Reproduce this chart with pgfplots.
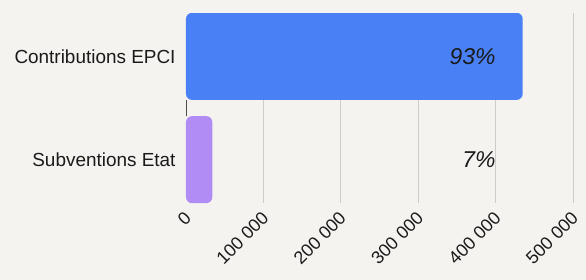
\documentclass[border=0pt]{standalone}
\usepackage{pgfplots}
\pgfplotsset{compat=1.18}
\usepackage{fontspec}
\setmainfont{Liberation Sans}
\usetikzlibrary{backgrounds}
\definecolor{bg}{HTML}{F5F3EF}
\definecolor{barblue}{HTML}{4A80F6}
\definecolor{barpurple}{HTML}{B08CF4}
\definecolor{gridc}{HTML}{CFCCC7}
\definecolor{txt}{HTML}{1A1A1A}
\begin{document}
\begin{tikzpicture}[show background rectangle, background rectangle/.style={fill=bg, draw=none}, inner frame sep=0pt]
\useasboundingbox (-186bp,-77bp) rectangle (400bp,203bp);
\begin{axis}[
  at={(0,0)}, anchor=south west,
  scale only axis, width=387bp, height=190bp,
  xmin=0, xmax=500000, ymin=-0.42, ymax=1.42,
  bar width=87bp,
  axis line style={draw=none},
  major tick length=0pt,
  xtick={100000,200000,300000,400000,500000},
  xticklabels={100 000,200 000,300 000,400 000,500 000},
  extra x ticks={0}, extra x tick labels={0},
  extra x tick style={grid=none},
  ytick={0,1}, yticklabels={Subventions Etat,Contributions EPCI},
  xmajorgrids, grid style={gridc, line width=1bp},
  ticklabel style={text=txt},
  xticklabel style={font=\fontsize{18}{22}\selectfont, inner sep=0pt, yshift=-12bp, xshift=2bp, rotate=45, anchor=east},
  yticklabel style={font=\fontsize{19}{22}\selectfont, xshift=-7bp},
]
\addplot[black!70, line width=0.8bp, forget plot] coordinates {(600,0.42) (600,0.58)};
\addplot[xbar, bar shift=0pt, draw=none, fill=barpurple, rounded corners=6bp] coordinates {(34000,0)};
\addplot[xbar, bar shift=0pt, draw=none, fill=barblue, rounded corners=6bp] coordinates {(435000,1)};
\node[anchor=east, inner sep=0pt, text=txt, font=\fontsize{23}{26}\selectfont\itshape] at (axis cs:400000,1) {93\%};
\node[anchor=east, inner sep=0pt, text=txt, font=\fontsize{23}{26}\selectfont\itshape] at (axis cs:400000,0) {7\%};
\end{axis}
\end{tikzpicture}
\end{document}
